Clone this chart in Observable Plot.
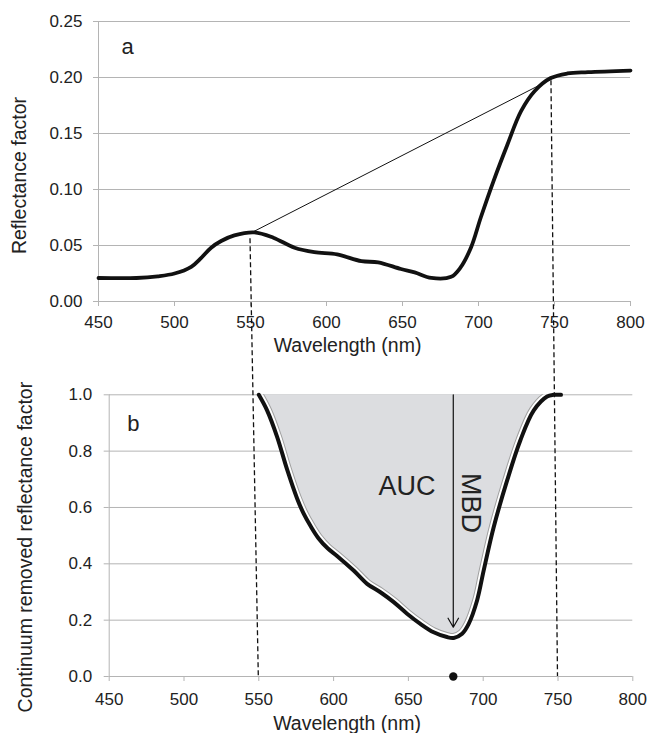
<!DOCTYPE html>
<html>
<head>
<meta charset="utf-8">
<script src="https://cdn.jsdelivr.net/npm/d3@7"></script>
<script src="https://cdn.jsdelivr.net/npm/@observablehq/plot@0.6"></script>
<style>
  html, body { margin: 0; padding: 0; background: #fff; }
  #wrap { position: relative; width: 649px; height: 733px; overflow: hidden; }
  #wrap > div, #wrap > svg { position: absolute; left: 0; }
  svg { display: block; }
</style>
</head>
<body>
<div id="wrap">
  <div id="pa" style="top:0"></div>
  <div id="pb" style="top:350px"></div>
  <svg id="ov" width="649" height="733" style="top:0;pointer-events:none"></svg>
</div>
<script>
// ---- data ----
const xTicks = [450, 500, 550, 600, 650, 700, 750, 800];
const yTicksA = [0, 0.05, 0.10, 0.15, 0.20, 0.25];
const yTicksB = [0, 0.2, 0.4, 0.6, 0.8, 1.0];

// panel a: reflectance spectrum
const waveA = [450, 475, 489, 500, 511, 517.6, 524.1, 530.7, 539.4, 552.5, 565, 579, 592, 607, 623, 634, 649, 658, 669, 682, 688, 695, 701.5, 710, 719, 728, 737, 747.5, 758.5, 772, 800];
const reflA = [0.021, 0.021, 0.0225, 0.025, 0.031, 0.039, 0.048, 0.054, 0.059, 0.0617, 0.057, 0.048, 0.044, 0.042, 0.036, 0.035, 0.029, 0.026, 0.021, 0.022, 0.030, 0.048, 0.075, 0.108, 0.140, 0.170, 0.188, 0.1995, 0.2036, 0.2048, 0.2062];

// continuum (hull segment)
const contWave = [550, 750];
const contRefl = [0.061, 0.200];

// panel b: continuum-removed reflectance
const waveB = [550, 555.6, 562.3, 568.9, 575.6, 580, 584.5, 590, 596, 602.3, 613.4, 622.4, 631.3, 640.2, 649.1, 658, 666.9, 675.8, 680.3, 685.9, 690.3, 695.9, 700.3, 707, 716, 724.8, 733.7, 742.7, 747, 752];
const crB   = [1.0, 0.944, 0.85, 0.735, 0.632, 0.578, 0.535, 0.49, 0.455, 0.428, 0.376, 0.329, 0.299, 0.264, 0.223, 0.187, 0.157, 0.14, 0.137, 0.152, 0.187, 0.27, 0.376, 0.53, 0.696, 0.838, 0.944, 0.994, 1.0, 1.0];

// MBD arrow
const mbdWave = [680];
const mbdTop = [1.0];
const mbdBottom = [0.175];

// dashed connectors (panel a point -> panel b baseline)
const linkWaveA = [550, 748];
const linkReflA = [0.056, 0.197];
const linkWaveB = [550, 750];
const linkCrB = [0, 0];

// ---- styles ----
const GRID = "#b4b4b4";
const INK = "#222";
const FONT = "'Liberation Sans', Arial, Helvetica, sans-serif";
const FILL = "#dcdde0";
const EDGE = "#a0a0a0";
const CURVE = "catmull-rom";

const dataA = waveA.map((w, i) => ({w, r: reflA[i]}));
const contData = contWave.map((w, i) => ({w, r: contRefl[i]}));
const dataB = waveB.map((w, i) => ({w, v: crB[i]}));
const mbd = mbdWave.map((w, i) => ({w, top: mbdTop[i], bottom: mbdBottom[i]}));

const chartA = Plot.plot({
  width: 649, height: 350,
  marginLeft: 98, marginRight: 19, marginTop: 21, marginBottom: 49,
  style: {fontFamily: FONT, fontSize: "17px", color: INK, background: "transparent", overflow: "visible"},
  x: {domain: [450, 800], ticks: xTicks, tickSize: 5, tickPadding: 9, tickFormat: d3.format("d"), label: null},
  y: {domain: [0, 0.25], ticks: yTicksA, tickSize: 5, tickPadding: 11, tickFormat: d3.format(".2f"), label: null},
  marks: [
    Plot.ruleY(yTicksA, {stroke: GRID, strokeWidth: 1}),
    Plot.ruleX([450], {stroke: GRID, strokeWidth: 1}),
    Plot.line(contData, {x: "w", y: "r", stroke: "#111", strokeWidth: 1}),
    Plot.line(dataA, {x: "w", y: "r", stroke: "#111", strokeWidth: 3.8, curve: CURVE}),
    Plot.text(["Reflectance factor"], {frameAnchor: "left", rotate: -90, dx: -73, dy: 14, lineAnchor: "bottom", textAnchor: "middle", fontSize: 19.5, fill: INK}),
    Plot.text(["Wavelength (nm)"], {frameAnchor: "bottom", dx: -17, dy: 50, lineAnchor: "bottom", textAnchor: "middle", fontSize: 19.5, fill: INK}),
    Plot.text(["a"], {frameAnchor: "top-left", dx: 23, dy: 32.3, lineAnchor: "bottom", textAnchor: "start", fontSize: 22, fill: INK})
  ]
});

const chartB = Plot.plot({
  width: 649, height: 383,
  marginLeft: 108.7, marginRight: 16.7, marginTop: 44.3, marginBottom: 57,
  style: {fontFamily: FONT, fontSize: "17px", color: INK, background: "transparent", overflow: "visible"},
  x: {domain: [450, 800], ticks: xTicks, tickSize: 5, tickPadding: 11, tickFormat: d3.format("d"), label: null},
  y: {domain: [0, 1], ticks: yTicksB, tickSize: 5, tickPadding: 12, tickFormat: d3.format(".1f"), label: null},
  marks: [
    Plot.ruleY(yTicksB, {stroke: GRID, strokeWidth: 1}),
    Plot.ruleX([450], {stroke: GRID, strokeWidth: 1}),
    Plot.areaY(dataB, {x: "w", y1: "v", y2: 1, fill: FILL, curve: CURVE}),
    // inner grey edge + white gap (clipped to the AUC area below)
    Plot.line(dataB, {x: "w", y: "v", stroke: EDGE, strokeWidth: 9.8, curve: CURVE}),
    Plot.line(dataB, {x: "w", y: "v", stroke: "#fff", strokeWidth: 7.8, curve: CURVE}),
    Plot.line(dataB, {x: "w", y: "v", stroke: "#111", strokeWidth: 4, curve: CURVE}),
    Plot.arrow(mbd, {x1: "w", x2: "w", y1: "top", y2: "bottom", stroke: "#111", strokeWidth: 1.2, headLength: 13, headAngle: 60}),
    Plot.dot(mbd, {x: "w", y: 0, r: 4.2, fill: "#111", stroke: "none"}),
    Plot.text(["AUC"], {x: 649, y: 0.643, lineAnchor: "bottom", textAnchor: "middle", fontSize: 27, fill: INK}),
    Plot.text(["MBD"], {x: 691.4, y: 0.616, rotate: 90, lineAnchor: "middle", textAnchor: "middle", fontSize: 27, fill: INK}),
    Plot.text(["Continuum removed reflectance factor"], {frameAnchor: "left", rotate: -90, dx: -77, dy: 11.5, lineAnchor: "bottom", textAnchor: "middle", fontSize: 19.5, fill: INK}),
    Plot.text(["Wavelength (nm)"], {frameAnchor: "bottom", dx: -24, dy: 53, lineAnchor: "bottom", textAnchor: "middle", fontSize: 19.5, fill: INK}),
    Plot.text(["b"], {frameAnchor: "top-left", dx: 18, dy: 36.4, lineAnchor: "bottom", textAnchor: "start", fontSize: 22, fill: INK})
  ]
});

// grey tick marks
for (const c of [chartA, chartB]) {
  d3.select(c).selectAll("g[aria-label$='axis tick'] path, g[aria-label$='axis tick'] line, .tick line")
    .attr("stroke", GRID);
}

// clip the grey-edge / white-gap strokes to the shaded area so they only show inside it
{
  const svgB = d3.select(chartB);
  const areaG = svgB.select("g[aria-label='area']");
  const areaD = areaG.select("path").attr("d");
  const defs = svgB.insert("defs", ":first-child");
  defs.append("clipPath").attr("id", "auc-clip").attr("clipPathUnits", "userSpaceOnUse")
    .append("path").attr("d", areaD).attr("transform", areaG.attr("transform"));
  const lines = svgB.selectAll("g[aria-label='line']").nodes();
  for (const g of lines.slice(0, 2)) {
    const wrap = d3.select(g.parentNode).insert("g", () => g).attr("clip-path", "url(#auc-clip)");
    wrap.node().appendChild(g);
  }
}

document.getElementById("pa").appendChild(chartA);
document.getElementById("pb").appendChild(chartB);

// dashed connectors drawn through both panels' scales
const offB = 350;
const sxA = chartA.scale("x"), syA = chartA.scale("y");
const sxB = chartB.scale("x"), syB = chartB.scale("y");
const links = linkWaveA.map((w, i) => ({
  x1: sxA.apply(w), y1: syA.apply(linkReflA[i]),
  x2: sxB.apply(linkWaveB[i]), y2: syB.apply(linkCrB[i]) + offB
}));
d3.select("#ov").selectAll("line").data(links).join("line")
  .attr("x1", d => d.x1).attr("y1", d => d.y1)
  .attr("x2", d => d.x2).attr("y2", d => d.y2)
  .attr("stroke", "#111").attr("stroke-width", 1.3).attr("stroke-dasharray", "5,3");
</script>
</body>
</html>
